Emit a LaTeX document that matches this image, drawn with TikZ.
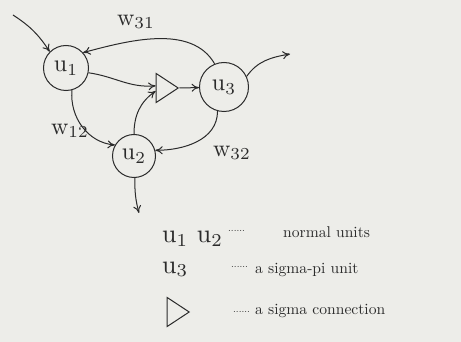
\documentclass[tikz,border=0pt]{standalone}
\usepackage{amsmath}
\usepackage{xcolor}
\usepackage{graphicx}
\usepackage{tikz}
\usetikzlibrary{arrows.meta,shapes.geometric}
\definecolor{netInk}{HTML}{2B2B2B}
\definecolor{netPaper}{HTML}{EDEDE9}
% 10pt design scaled up, as in the printed figure
\newcommand{\unitlabel}[1]{\scalebox{2.4}{#1}}
\newcommand{\legunit}[1]{\scalebox{2.6}{#1}}
\newcommand{\legtxt}[1]{\scalebox{1.56}{#1}}
\tikzset{
  unit/.style={draw=netInk,circle,line width=1pt,inner sep=0pt,text=netInk},
  sigmatri/.style={draw=netInk,isosceles triangle,isosceles triangle stretches,
    inner sep=0pt,minimum width=29pt,minimum height=22pt,line width=1pt},
  arrow/.style={-{To[length=2.6mm,width=2.8mm]},line width=1pt,draw=netInk},
  wlabel/.style={text=netInk},
  legtext/.style={text=netInk,anchor=base west,inner sep=0pt},
  legdots/.style={font=\normalsize,text=netInk,anchor=base west,inner sep=0pt}
}

\begin{document}
\begin{tikzpicture}[x=1pt,y=-1pt]
  \fill[netPaper] (0,0) rectangle (461,342);
  \useasboundingbox (0,0) rectangle (461,342);

  % units
  \node[unit, minimum size=45pt] (u1) at (66,68) {\unitlabel{u$_1$}};
  \node[unit, minimum size=43pt] (u2) at (134,156) {\unitlabel{u$_2$}};
  \node[unit, minimum size=49pt] (u3) at (224,87) {\unitlabel{u$_3$}};
  \node[sigmatri] (sigma) at (164,88) {};

  \coordinate (in1) at (13,15);
  \coordinate (out3) at (290,54);
  \coordinate (out2) at (139,213);

  \draw[arrow] (in1) to[bend left=12] (u1.135);
  \draw[arrow] (u3.112) to[out=120,in=15,looseness=0.9] (u1.42);
  \draw[arrow] (u3.25) to[out=55,in=190] (out3);
  \draw[arrow] (u1.-12) to[out=-8,in=185] (sigma.165);
  \draw[arrow] (sigma.apex) -- (u3);
  \draw[arrow] (u1.-75) to[out=-95,in=175] (u2.150);
  \draw[arrow] (u2.90) to[out=90,in=215] (sigma.200);
  \draw[arrow] (u3.-105) to[out=-90,in=0] (u2.15);
  \draw[arrow] (u2.-88) to[out=-90,in=105] (out2);

  \node[wlabel] (w31) at (136,22) {\unitlabel{w$_{31}$}};
  \node[wlabel] (w12) at (70,131) {\unitlabel{w$_{12}$}};
  \node[wlabel] (w32) at (232,153) {\unitlabel{w$_{32}$}};

  % legend
  \node[legtext] (l1) at (162,243) {\legunit{u$_1$\ u$_2$}};
  \node[legdots] (d1) at (228,232) {......};
  \node[legtext] (t1) at (283,238) {\legtxt{normal units}};

  \node[legtext] (l2) at (162,273) {\legunit{u$_3$}};
  \node[legdots] (d2) at (231,268) {......};
  \node[legtext] (t2) at (255,273) {\legtxt{a sigma-pi unit}};

  \node[sigmatri] (l3) at (175,312) {};
  \node[legdots] (d3) at (233,312) {......};
  \node[legtext] (t3) at (255,314) {\legtxt{a sigma connection}};
\end{tikzpicture}
\end{document}
